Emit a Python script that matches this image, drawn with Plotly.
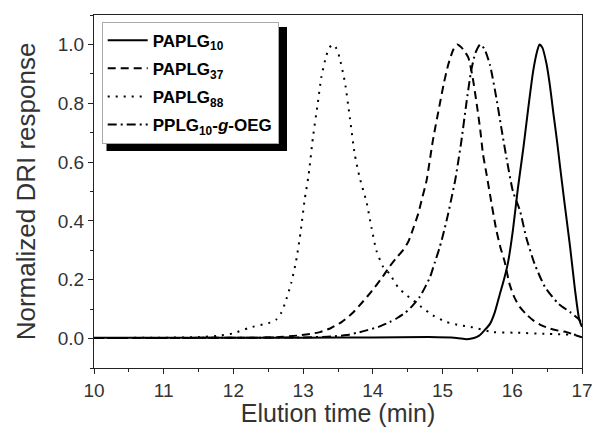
import plotly.graph_objects as go

# ---- data ----
x_papl10 = [10, 11, 12, 13, 14, 14.8, 15.2, 15.35, 15.45, 15.53, 15.6, 15.68, 15.75, 15.82, 15.88,
            15.94, 16.01, 16.08, 16.16, 16.23, 16.30, 16.36, 16.39, 16.43, 16.49, 16.54, 16.59,
            16.64, 16.68, 16.75, 16.83, 16.90, 16.96, 17.0]
y_papl10 = [0.003, 0.003, 0.003, 0.003, 0.004, 0.005, 0.002, -0.002, 0.002, 0.011, 0.028, 0.05, 0.09,
            0.15, 0.20, 0.26, 0.37, 0.51, 0.65, 0.785, 0.91, 0.98, 1.0, 0.99, 0.935, 0.86, 0.765,
            0.675, 0.595, 0.46, 0.31, 0.165, 0.065, 0.04]

x_papl37 = [10, 11, 12, 12.6, 12.95, 13.1, 13.24, 13.4, 13.55, 13.7, 13.81, 13.92, 14.03, 14.14, 14.24,
            14.34, 14.43, 14.51, 14.58, 14.65, 14.71, 14.77, 14.86, 14.96, 15.02, 15.08, 15.15, 15.21,
            15.27, 15.32, 15.37, 15.43, 15.49, 15.54, 15.58, 15.63, 15.68, 15.77, 15.83, 15.89, 15.96,
            16.03, 16.11, 16.2, 16.30, 16.42, 16.54, 16.66, 16.78, 16.9, 17.0]
y_papl37 = [0.002, 0.002, 0.003, 0.004, 0.011, 0.016, 0.022, 0.036, 0.056, 0.085, 0.113, 0.143, 0.175,
            0.21, 0.245, 0.275, 0.30, 0.33, 0.375, 0.424, 0.48, 0.537, 0.672, 0.797, 0.87, 0.93, 0.98,
            1.0, 0.99, 0.975, 0.955, 0.89, 0.797, 0.71, 0.627, 0.56, 0.49, 0.37, 0.31, 0.262, 0.186,
            0.14, 0.107, 0.083, 0.062, 0.045, 0.034, 0.027, 0.022, 0.012, 0.004]

x_papl88 = [10, 11, 11.5, 11.8, 12.0, 12.23, 12.42, 12.55, 12.62, 12.68, 12.74, 12.83, 12.90, 12.96,
            13.02, 13.08, 13.14, 13.21, 13.26, 13.33, 13.38, 13.43, 13.48, 13.52, 13.60, 13.67, 13.74,
            13.81, 13.91, 13.98, 14.05, 14.15, 14.24, 14.36, 14.47, 14.58, 14.70, 14.86, 15.06, 15.25,
            15.40, 15.72, 16.06, 16.5, 17.0]
y_papl88 = [0.002, 0.003, 0.005, 0.01, 0.018, 0.037, 0.048, 0.056, 0.066, 0.085, 0.12, 0.19, 0.265,
            0.356, 0.469, 0.559, 0.683, 0.80, 0.887, 0.96, 0.99, 1.0, 0.985, 0.957, 0.87, 0.751, 0.627,
            0.548, 0.463, 0.378, 0.30, 0.243, 0.22, 0.175, 0.15, 0.13, 0.107, 0.079, 0.056, 0.045,
            0.04, 0.022, 0.02, 0.016, 0.012]

x_oeg = [10, 11, 12, 13, 13.4, 13.62, 13.78, 13.91, 14.08, 14.24, 14.35, 14.46, 14.57, 14.67, 14.75,
         14.82, 14.89, 14.96, 15.02, 15.08, 15.13, 15.18, 15.23, 15.27, 15.34, 15.41, 15.47, 15.54,
         15.60, 15.68, 15.77, 15.85, 15.92, 16.01, 16.11, 16.20, 16.32, 16.47, 16.66, 16.83, 16.97, 17.0]
y_oeg = [0.002, 0.002, 0.003, 0.004, 0.007, 0.012, 0.02, 0.028, 0.04, 0.056, 0.07, 0.087, 0.112, 0.141,
         0.175, 0.209, 0.26, 0.311, 0.365, 0.424, 0.48, 0.537, 0.61, 0.672, 0.797, 0.91, 0.97, 1.0,
         0.985, 0.93, 0.82, 0.706, 0.61, 0.50, 0.435, 0.344, 0.254, 0.175, 0.119, 0.09, 0.062, 0.045]

names = ["<b>PAPLG<sub>10</sub></b>", "<b>PAPLG<sub>37</sub></b>", "<b>PAPLG<sub>88</sub></b>",
         "<b>PPLG<sub>10</sub>-<i>g</i>-OEG</b>"]

x_ticks = [10, 11, 12, 13, 14, 15, 16, 17]
y_ticks = [0.0, 0.2, 0.4, 0.6, 0.8, 1.0]

FONT = "Arial, 'Liberation Sans', sans-serif"

fig = go.Figure()
series = [(x_papl10, y_papl10, "solid"), (x_papl37, y_papl37, "8px,5px"),
          (x_papl88, y_papl88, "2px,6px"), (x_oeg, y_oeg, "9px,4px,2px,4px")]
for i, ((xs, ys, dash), nm) in enumerate(zip(series, names)):
    fig.add_trace(go.Scatter(x=xs, y=ys, mode="lines", name=nm, legendgroup=f"g{i}",
                             line=dict(color="black", width=2, dash=dash, shape="spline", smoothing=0.6)))

# plot area in pixels: left 94, right 582, top 15, bottom 368
PL, PW, PT, PH = 94, 488, 15, 353
def px_x(p):
    return (p - PL) / PW
def px_y(p):
    return (PT + PH - p) / PH

# legend drop shadow
fig.add_shape(type="rect", xref="paper", yref="paper",
              x0=px_x(106.5), x1=px_x(287), y0=px_y(151), y1=px_y(27),
              fillcolor="black", line=dict(width=0), layer="above")

fig.update_layout(
    width=594, height=427,
    margin=dict(l=94, r=12, t=15, b=59, autoexpand=False),
    paper_bgcolor="white", plot_bgcolor="white",
    font=dict(family=FONT, color="#333333"),
    showlegend=True,
    legend=dict(x=px_x(101.7), y=px_y(21.7), xanchor="left", yanchor="top",
                bgcolor="white", bordercolor="#aaaaaa", borderwidth=1,
                font=dict(size=17, color="black", family=FONT),
                tracegroupgap=3, itemwidth=40),
    xaxis=dict(range=[10, 17], tickvals=x_ticks, ticks="outside", ticklen=5, tickwidth=1.2,
               tickcolor="#222", showline=True, linecolor="#222", linewidth=1.3, mirror=True,
               showgrid=False, zeroline=False, tickfont=dict(size=19), automargin=False,
               minor=dict(dtick=0.5, tick0=10, ticks="outside", ticklen=3, tickcolor="#222"),
               title=dict(text="Elution time (min)", font=dict(size=25), standoff=5)),
    yaxis=dict(range=[-0.1, 1.1], tickvals=y_ticks, tickformat=".1f", ticks="outside", ticklen=5,
               tickwidth=1.2, tickcolor="#222", showline=True, linecolor="#222", linewidth=1.3,
               mirror=True, showgrid=False, zeroline=False, tickfont=dict(size=19), automargin=False,
               minor=dict(dtick=0.1, tick0=0, ticks="outside", ticklen=3, tickcolor="#222"),
               title=dict(text="Normalized DRI response", font=dict(size=26), standoff=14)),
)

fig.write_html("out.html", config={"displayModeBar": False},
               post_script="document.body.style.margin='0';")
